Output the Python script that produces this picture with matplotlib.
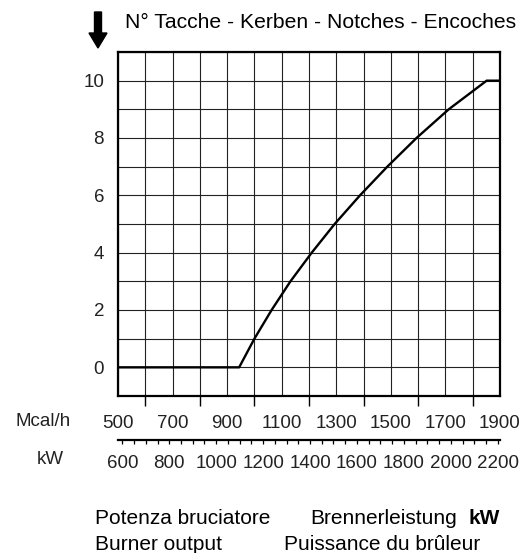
import numpy as np
import matplotlib
matplotlib.use("Agg")
import matplotlib.pyplot as plt
from matplotlib.patches import FancyArrow
from matplotlib.transforms import IdentityTransform

# curve: burner output (Mcal/h) -> number of notches
mcal = [500, 944, 1000, 1063, 1132, 1210, 1294, 1387, 1487, 1594, 1712, 1851, 1900]
notches = [0, 0, 1, 2, 3, 4, 5, 6, 7, 8, 9, 10, 10]

mcal_labels = [500, 700, 900, 1100, 1300, 1500, 1700, 1900]
kw_labels = [600, 800, 1000, 1200, 1400, 1600, 1800, 2000, 2200]
y_labels = [0, 2, 4, 6, 8, 10]
KW_PER_MCAL = 1.163

W, H = 520, 553
fig = plt.figure(figsize=(W / 100, H / 100), dpi=100)
plt.rcParams['font.family'] = ['Liberation Sans', 'DejaVu Sans']

# axes box in pixels: left 118, right 500, top 52, bottom 396
ax = fig.add_axes([118 / W, 1 - 396 / H, (500 - 118) / W, (396 - 52) / H])
ax.set_xlim(500, 1900)
ax.set_ylim(-1, 11)

ax.plot(mcal, notches, color='black', lw=1.7, solid_joinstyle='round', zorder=3)

# grid every 100 Mcal/h and every notch
ax.set_xticks(mcal_labels)
ax.set_xticks(np.arange(600, 1900, 200), minor=True)
ax.set_yticks(y_labels)
ax.set_yticks(np.arange(-1, 12, 2), minor=True)
ax.grid(which='both', color='#222222', lw=0.8)
ax.tick_params(axis='x', which='major', length=0, pad=14, labelsize=13.5, labelcolor='#222222')
ax.tick_params(axis='x', which='minor', length=7, width=1.0, direction='out')
ax.tick_params(axis='y', which='both', length=0, pad=10, labelsize=13.5, labelcolor='#222222')
for sp in ax.spines.values():
    sp.set_linewidth(1.6)

# kW scale under the chart
sec = ax.secondary_xaxis(-0.128, functions=(lambda m: m * KW_PER_MCAL, lambda k: k / KW_PER_MCAL))
sec.set_xticks(kw_labels)
sec.set_xticks(np.arange(600, 2201, 50), minor=True)
sec.tick_params(axis='x', which='both', length=3, width=0.9, direction='out', pad=8,
                labelsize=13.5, labelcolor='#222222')
sec.spines['bottom'].set_linewidth(1.6)

fig.text(43 / W, 1 - 422 / H, "Mcal/h", ha='center', va='center', fontsize=13.5, color='#222222')
fig.text(50 / W, 1 - 460 / H, "kW", ha='center', va='center', fontsize=13.5, color='#222222')

fig.text(125 / W, 1 - 22 / H, "N° Tacche - Kerben - Notches - Encoches",
         ha='left', va='center', fontsize=15.2)
fig.add_artist(FancyArrow(98, H - 12, 0, -36, width=7, head_width=18, head_length=15,
                          length_includes_head=True, color='black', transform=IdentityTransform()))

fig.text(95 / W, 1 - 518 / H, "Potenza bruciatore", ha='left', va='center', fontsize=15)
fig.text(310 / W, 1 - 518 / H, "Brennerleistung", ha='left', va='center', fontsize=15)
fig.text(500 / W, 1 - 518 / H, "kW", ha='right', va='center', fontsize=15, fontweight='bold')
fig.text(95 / W, 1 - 545 / H, "Burner output", ha='left', va='center', fontsize=15)
fig.text(284 / W, 1 - 545 / H, "Puissance du brûleur", ha='left', va='center', fontsize=15)

fig.savefig("out.png", dpi=100)
